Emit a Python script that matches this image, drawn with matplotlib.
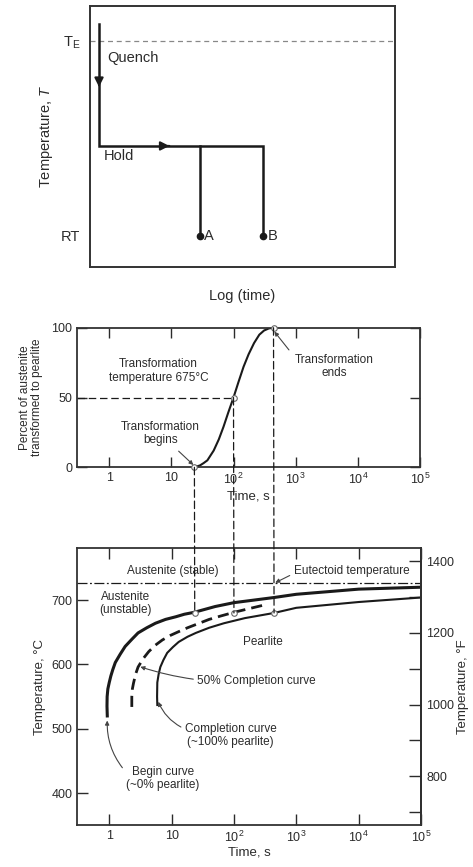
import numpy as np
import matplotlib as mpl
mpl.use('Agg')
import matplotlib.pyplot as plt
from matplotlib.patches import ConnectionPatch
from matplotlib.ticker import FixedLocator, NullFormatter

plt.rcParams['font.family'] = ['Liberation Sans', 'DejaVu Sans']
plt.rcParams['mathtext.fontset'] = 'custom'
plt.rcParams['mathtext.rm'] = 'Liberation Sans'
plt.rcParams['mathtext.it'] = 'Liberation Sans:italic'

INK = '#1a1a1a'
TXT = '#2b2b2b'

# ---------------- data ----------------
# top sketch (arbitrary units, axes 0..1)
x_quench = 0.03
y_start, y_TE, y_hold, y_RT = 0.93, 0.866, 0.464, 0.119
t_A, t_B = 0.36, 0.567
arrow_quench_y = 0.69
arrow_hold_x = 0.27

# isothermal transformation at 675 C
t_sig = [23.5, 29, 33, 38, 48, 58, 69, 82, 100, 120, 145, 175, 214, 260, 310, 370, 440]
pct_sig = [0, 1.4, 3, 5, 12, 20, 29, 39, 50, 61, 72, 81, 89, 95, 98, 99.5, 100]
t_marks = [23.5, 100, 440]
pct_marks = [0, 50, 100]
T_iso = 680

# TTT curves
t_begin = [0.93, 0.92, 0.925, 0.95, 1.0, 1.06, 1.14, 1.25, 1.5, 1.8, 2.3, 2.9, 4.0, 5.5,
           8.0, 11.6, 16, 23, 50, 100, 440, 1000, 1e4, 1e5]
T_begin = [520, 535, 550, 562, 572, 582, 592, 603, 616, 628, 639, 649, 657, 664,
           670, 674, 678, 681, 690, 696, 704, 709, 717, 720]
t_half = [2.3, 2.3, 2.35, 2.45, 2.65, 2.9, 3.5, 4.3, 5.5, 7.1, 9.5, 13, 18, 24.5, 40,
          60, 100, 180, 295]
T_half = [534, 550, 562, 571, 585, 596, 609, 620, 630, 638, 645, 651, 657, 662, 670,
          675, 681, 687, 692]
t_end = [5.9, 5.85, 5.9, 6.2, 6.6, 7.4, 8.5, 10.5, 13, 18, 24.5, 40, 69, 150, 440,
         1000, 1e4, 1e5]
T_end = [537, 550, 572, 585, 596, 607, 618, 627, 635, 643, 649, 657, 664, 672, 680,
         688, 697, 704]
T_eutectoid = 727

time_ticks = [1, 10, 1e2, 1e3, 1e4, 1e5]
time_labels = ['1', '10', r'$\mathregular{10^2}$', r'$\mathregular{10^3}$',
               r'$\mathregular{10^4}$', r'$\mathregular{10^5}$']
xlim = (0.305, 1e5)


def main():
    fig = plt.figure(figsize=(4.73, 8.67), dpi=100)

    # ---------------- top: heat treatment path ----------------
    ax1 = fig.add_axes([0.190, 0.692, 0.645, 0.301])
    ax1.set_xlim(0, 1)
    ax1.set_ylim(0, 1)
    ax1.axhline(y_TE, color='#888888', lw=0.9, ls=(0, (4, 3)))
    ax1.plot([x_quench, x_quench, t_B, t_B], [y_start, y_hold, y_hold, y_RT],
             color=INK, lw=1.8, solid_joinstyle='miter')
    ax1.plot([t_A, t_A], [y_hold, y_RT], color=INK, lw=1.8)
    ax1.plot([t_A, t_B], [y_RT, y_RT], 'o', color=INK, ms=4.5, ls='none')
    ax1.annotate('', xy=(x_quench, arrow_quench_y), xytext=(x_quench, arrow_quench_y + 0.02),
                 arrowprops=dict(arrowstyle='-|>', color=INK, lw=1.5, mutation_scale=13))
    ax1.annotate('', xy=(arrow_hold_x, y_hold), xytext=(arrow_hold_x - 0.02, y_hold),
                 arrowprops=dict(arrowstyle='-|>', color=INK, lw=1.5, mutation_scale=13))
    ax1.text(x_quench + 0.027, 0.80, 'Quench', fontsize=10.5, color=TXT, va='center')
    ax1.text(x_quench + 0.017, 0.425, 'Hold', fontsize=10.5, color=TXT, va='center')
    ax1.text(t_A + 0.015, y_RT, 'A', fontsize=10.5, color=TXT, va='center')
    ax1.text(t_B + 0.015, y_RT, 'B', fontsize=10.5, color=TXT, va='center')
    ax1.set_xticks([])
    ax1.set_yticks([y_RT, y_TE])
    ax1.set_yticklabels(['RT', r'T$_\mathregular{E}$'], fontsize=10.5, color=TXT)
    ax1.tick_params(axis='y', length=0, pad=7)
    ax1.set_ylabel('Temperature, $\\mathit{T}$', fontsize=10.5, color=TXT, labelpad=4)
    ax1.set_xlabel('Log (time)', fontsize=10.5, color=TXT, labelpad=16)
    for s in ax1.spines.values():
        s.set_linewidth(1.4)
        s.set_color('#333333')

    # ---------------- middle: percent transformed ----------------
    ax2 = fig.add_axes([0.163, 0.461, 0.725, 0.161])
    ax2.set_xscale('log')
    ax2.set_xlim(*xlim)
    ax2.set_ylim(0, 100)
    ax2.plot(t_sig, pct_sig, color=INK, lw=1.5)
    ax2.plot([xlim[0], t_marks[1]], [pct_marks[1], pct_marks[1]], color=INK, lw=0.9,
             ls=(0, (6, 3)))
    ax2.plot(t_marks, pct_marks, 'o', ms=4, mfc='white', mec='#666666', mew=0.8,
             clip_on=False, zorder=5)
    ax2.xaxis.set_major_locator(FixedLocator(time_ticks))
    ax2.set_xticklabels(time_labels)
    ax2.xaxis.set_minor_formatter(NullFormatter())
    ax2.xaxis.set_minor_locator(FixedLocator([]))
    ax2.set_yticks([0, 50, 100])
    ax2.tick_params(direction='in', length=7, width=1, labelsize=9, colors=TXT,
                    top=True, right=True)
    ax2.set_xlabel('Time, s', fontsize=9.5, color=TXT, labelpad=2)
    ax2.set_ylabel('Percent of austenite\ntransformed to pearlite', fontsize=8.5,
                   color=TXT, labelpad=6, linespacing=1.0)
    for s in ax2.spines.values():
        s.set_linewidth(1.3)
        s.set_color('#333333')
    ax2.text(6.2, 69, 'Transformation\ntemperature 675\u00b0C', fontsize=8.5, color=TXT,
             ha='center', va='center', linespacing=1.15)
    ax2.annotate('Transformation\nbegins', xy=(t_marks[0], 1), xytext=(6.6, 24),
                 fontsize=8.5, color=TXT, ha='center', va='center', linespacing=1.15,
                 arrowprops=dict(arrowstyle='-|>', color='#444444', lw=0.8,
                                 mutation_scale=6, shrinkA=2, shrinkB=1))
    ax2.annotate('Transformation\nends', xy=(t_marks[2], 98), xytext=(4100, 72),
                 fontsize=8.5, color=TXT, ha='center', va='center', linespacing=1.15,
                 arrowprops=dict(arrowstyle='-|>', color='#444444', lw=0.8,
                                 mutation_scale=6, shrinkA=3, shrinkB=1,
                                 relpos=(0.0, 0.9)))

    # ---------------- bottom: TTT diagram ----------------
    ax3 = fig.add_axes([0.163, 0.048, 0.727, 0.320])
    ax3.set_xscale('log')
    ax3.set_xlim(*xlim)
    ax3.set_ylim(350, 781)
    ax3.axhline(T_eutectoid, color=INK, lw=0.9, ls=(0, (8, 2, 1.5, 2)))
    ax3.plot(t_begin, T_begin, color=INK, lw=2.2)
    ax3.plot(t_half, T_half, color=INK, lw=2.0, ls=(0, (4, 2.2)))
    ax3.plot(t_end, T_end, color=INK, lw=1.5)
    ax3.plot(t_marks, [T_iso] * len(t_marks), 'o', ms=4, mfc='white', mec='#666666',
             mew=0.8, zorder=5)
    ax3.xaxis.set_major_locator(FixedLocator(time_ticks))
    ax3.set_xticklabels(time_labels)
    ax3.xaxis.set_minor_locator(FixedLocator([]))
    ax3.set_yticks([400, 500, 600, 700])
    ax3.tick_params(direction='in', length=8, width=1, labelsize=9, colors=TXT,
                    top=True, right=False)
    ax3.set_xlabel('Time, s', fontsize=9.5, color=TXT, labelpad=1)
    ax3.set_ylabel('Temperature, \u00b0C', fontsize=9.5, color=TXT, labelpad=4)
    for s in ax3.spines.values():
        s.set_linewidth(1.3)
        s.set_color('#333333')

    sec = ax3.secondary_yaxis('right', functions=(lambda c: c * 1.8 + 32,
                                                  lambda f: (f - 32) / 1.8))
    sec.set_yticks([800, 1000, 1200, 1400])
    sec.yaxis.set_minor_locator(FixedLocator([700, 900, 1100, 1300]))
    sec.tick_params(which='both', direction='in', length=9, width=1, labelsize=9,
                    colors=TXT, pad=4)
    sec.spines['right'].set_linewidth(1.3)
    sec.set_ylabel('Temperature, \u00b0F', fontsize=9.5, color=TXT, labelpad=2)

    ax3.text(10.4, 745, 'Austenite (stable)', fontsize=8.5, color=TXT, ha='center',
             va='center')
    ax3.annotate('Eutectoid temperature', xy=(460, T_eutectoid), xytext=(7700, 745),
                 fontsize=8.5, color=TXT, ha='center', va='center',
                 arrowprops=dict(arrowstyle='-|>', color='#444444', lw=0.8,
                                 mutation_scale=6, shrinkA=1, shrinkB=0,
                                 relpos=(0.0, 0.3)))
    ax3.text(1.8, 695, 'Austenite\n(unstable)', fontsize=8.5, color=TXT, ha='center',
             va='center', linespacing=1.1)
    ax3.text(295, 635, 'Pearlite', fontsize=8.5, color=TXT, ha='center', va='center')
    ax3.annotate('50% Completion curve', xy=(3.0, 597), xytext=(26, 574),
                 fontsize=8.5, color=TXT, ha='left', va='center',
                 arrowprops=dict(arrowstyle='-|>', color='#444444', lw=0.8,
                                 mutation_scale=6, shrinkA=1, shrinkB=1,
                                 connectionstyle='arc3,rad=-0.1'))
    ax3.annotate('Completion curve\n(~100% pearlite)', xy=(6.0, 544), xytext=(89, 490),
                 fontsize=8.5, color=TXT, ha='center', va='center', linespacing=1.1,
                 arrowprops=dict(arrowstyle='-|>', color='#444444', lw=0.8,
                                 mutation_scale=6, shrinkA=1, shrinkB=1,
                                 relpos=(0.0, 0.75),
                                 connectionstyle='arc3,rad=-0.2'))
    ax3.annotate('Begin curve\n(~0% pearlite)', xy=(0.93, 515), xytext=(7.2, 423),
                 fontsize=8.5, color=TXT, ha='center', va='center', linespacing=1.1,
                 arrowprops=dict(arrowstyle='-|>', color='#444444', lw=0.8,
                                 mutation_scale=6, shrinkA=1, shrinkB=1,
                                 relpos=(0.0, 0.75),
                                 connectionstyle='arc3,rad=-0.2'))

    # dashed guides joining the two lower panels
    for t, p in zip(t_marks, pct_marks):
        con = ConnectionPatch(xyA=(t, p), coordsA=ax2.transData,
                              xyB=(t, T_iso), coordsB=ax3.transData,
                              color=INK, lw=0.9, ls=(0, (6, 3)), zorder=1)
        fig.add_artist(con)

    fig.savefig('out.png', dpi=100, facecolor='white')


if __name__ == '__main__':
    main()
